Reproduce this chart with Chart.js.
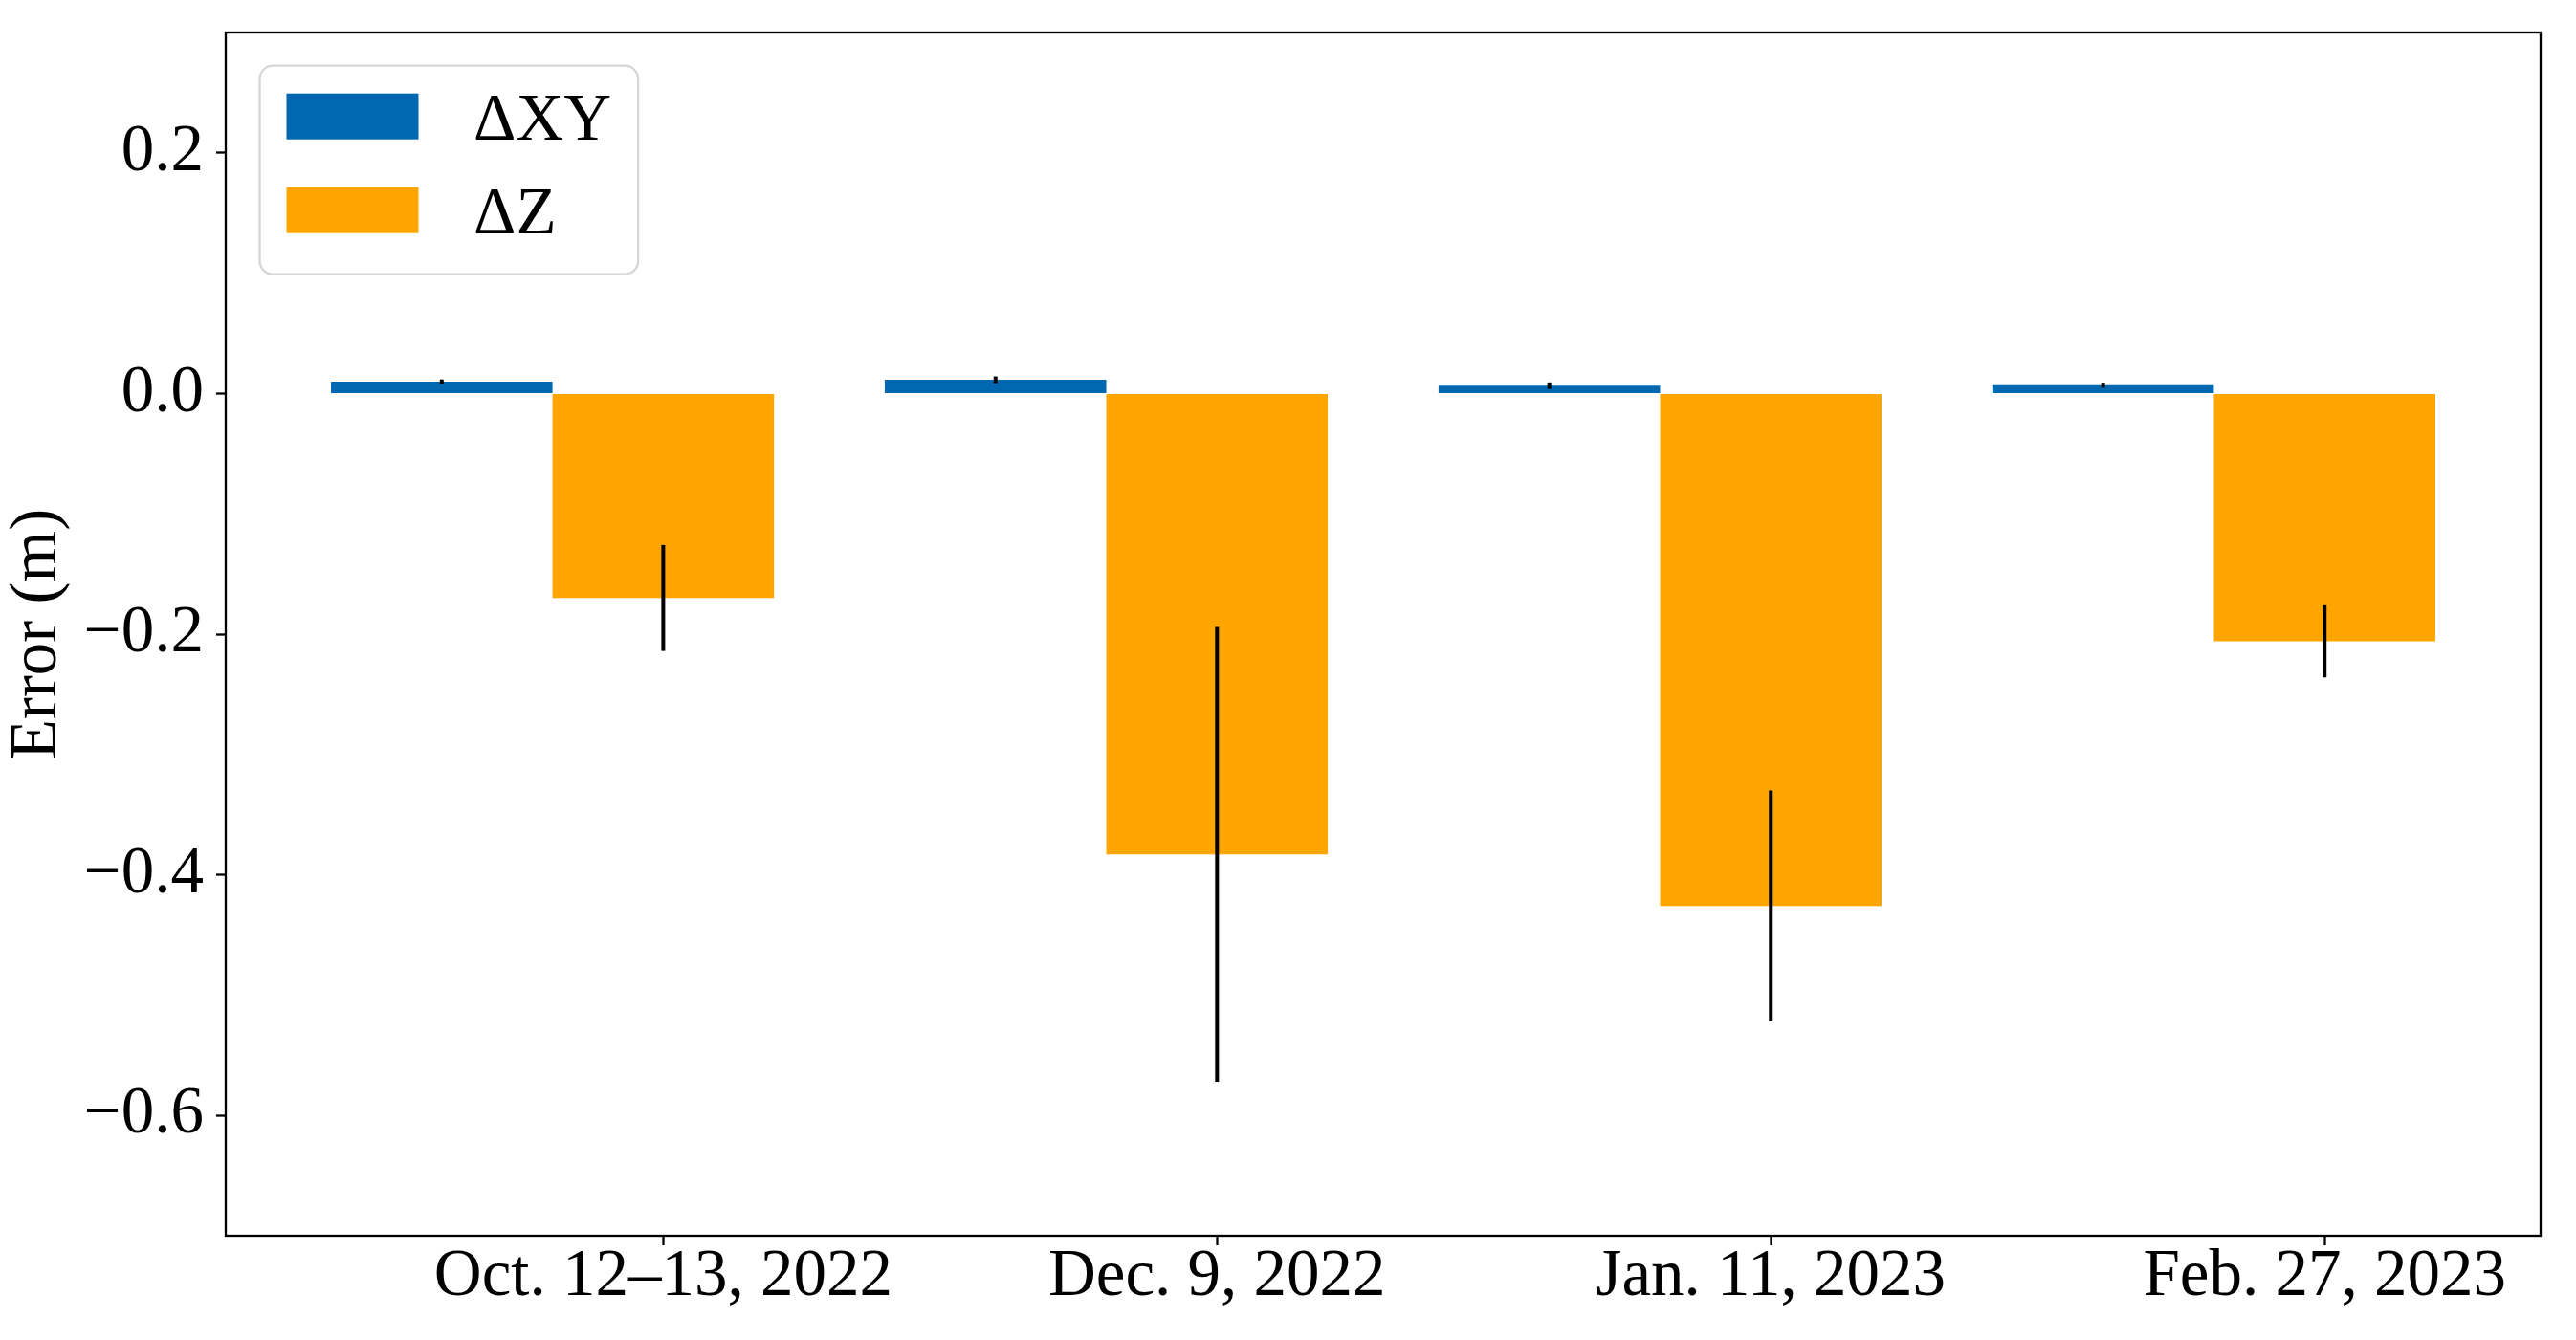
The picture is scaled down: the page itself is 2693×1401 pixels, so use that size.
<!DOCTYPE html>
<html>
<head>
<meta charset="utf-8">
<script src="https://cdn.jsdelivr.net/npm/chart.js@4.4.1/dist/chart.umd.min.js"></script>
<style>
  html, body { margin: 0; padding: 0; background: #ffffff; }
  canvas { display: block; }
</style>
</head>
<body>
<canvas id="chart" width="2693" height="1401"></canvas>
<script>
// ---------------- data ----------------
const categories = ["Oct. 12–13, 2022", "Dec. 9, 2022", "Jan. 11, 2023", "Feb. 27, 2023"];
const seriesLabels = ["ΔXY", "ΔZ"];
const xyValues = [0.0098, 0.0114, 0.0065, 0.0069];
const xyErrors = [0.0019, 0.0028, 0.0027, 0.0021];
const zValues  = [-0.170, -0.383, -0.426, -0.206];
const zErrors  = [0.044, 0.189, 0.096, 0.030];
const yTicks   = [-0.6, -0.4, -0.2, 0.0, 0.2];
const yTitle   = "Error (m)";

// ---------------- styling ----------------
const FONT = '"Liberation Serif", "Times New Roman", serif';
const FS = 69;
const COLORS = ["#0068b0", "#ffa500"];
const CAT_PCT = 0.8;                // two bars of 0.4 each per category
const TICK_OFFSET = CAT_PCT / 4;    // ticks sit under the centre of the second bar
const LW = 2.3;

const errorBars = {
  id: 'errorBars',
  afterDatasetsDraw(chart) {
    const ctx = chart.ctx;
    const yScale = chart.scales.y;
    chart.data.datasets.forEach((ds, di) => {
      const meta = chart.getDatasetMeta(di);
      if (!ds.errors || meta.hidden) return;
      ctx.save();
      ctx.strokeStyle = '#000000';
      ctx.lineWidth = 4;
      ctx.lineCap = 'butt';
      meta.data.forEach((bar, i) => {
        const v = ds.data[i].y, e = ds.errors[i];
        ctx.beginPath();
        ctx.moveTo(bar.x, yScale.getPixelForValue(v + e));
        ctx.lineTo(bar.x, yScale.getPixelForValue(v - e));
        ctx.stroke();
      });
      ctx.restore();
    });
  }
};

const frame = {
  id: 'frame',
  afterDraw(chart) {
    const {ctx, chartArea: a} = chart;
    ctx.save();
    ctx.strokeStyle = '#000000';
    ctx.lineWidth = LW;
    ctx.strokeRect(a.left, a.top, a.right - a.left, a.bottom - a.top);
    ctx.restore();
  }
};

function roundRectPath(ctx, x, y, w, h, r) {
  ctx.beginPath();
  ctx.moveTo(x + r, y);
  ctx.lineTo(x + w - r, y);
  ctx.arcTo(x + w, y, x + w, y + r, r);
  ctx.lineTo(x + w, y + h - r);
  ctx.arcTo(x + w, y + h, x + w - r, y + h, r);
  ctx.lineTo(x + r, y + h);
  ctx.arcTo(x, y + h, x, y + h - r, r);
  ctx.lineTo(x, y + r);
  ctx.arcTo(x, y, x + r, y, r);
  ctx.closePath();
}

const boxLegend = {
  id: 'boxLegend',
  afterDraw(chart) {
    const {ctx, chartArea: a} = chart;
    const items = chart.data.datasets;
    ctx.save();
    ctx.font = FS + 'px ' + FONT;
    const textW = Math.max(...items.map(d => ctx.measureText(d.label).width));
    const pad = 28, handleW = 138, handleH = 48, textPad = 57.6, rowPitch = 98, topIn = 29, botIn = 43;
    const x0 = a.left + 35.5, y0 = a.top + 34.7;
    const w = pad + handleW + textPad + textW + pad;
    const h = topIn + (items.length - 1) * rowPitch + handleH + botIn;
    roundRectPath(ctx, x0, y0, w, h, 14);
    ctx.fillStyle = 'rgba(255,255,255,0.8)';
    ctx.fill();
    ctx.strokeStyle = 'rgba(204,204,204,0.8)';
    ctx.lineWidth = LW;
    ctx.stroke();
    items.forEach((d, i) => {
      const sy = y0 + topIn + i * rowPitch;
      ctx.fillStyle = d.backgroundColor;
      ctx.fillRect(x0 + pad, sy, handleW, handleH);
      ctx.fillStyle = '#000000';
      ctx.textBaseline = 'alphabetic';
      ctx.textAlign = 'left';
      ctx.fillText(d.label, x0 + pad + handleW + textPad, sy + handleH);
    });
    ctx.restore();
  }
};

const toXY = arr => arr.map((v, i) => ({x: i, y: v}));

new Chart(document.getElementById('chart'), {
  type: 'bar',
  data: {
    datasets: [
      { label: seriesLabels[0], data: toXY(xyValues), errors: xyErrors, backgroundColor: COLORS[0] },
      { label: seriesLabels[1], data: toXY(zValues),  errors: zErrors,  backgroundColor: COLORS[1] }
    ]
  },
  options: {
    responsive: false,
    animation: false,
    devicePixelRatio: 1,
    layout: { padding: { top: 34, right: 37, left: 0, bottom: 0 } },
    datasets: { bar: { categoryPercentage: CAT_PCT, barPercentage: 1.0, borderWidth: 0 } },
    plugins: { legend: { display: false }, tooltip: { enabled: false } },
    scales: {
      x: {
        type: 'linear',
        offset: false,
        min: -0.59,
        max: 3.59,
        afterBuildTicks(scale) {
          scale.ticks = categories.map((c, i) => ({ value: i + TICK_OFFSET }));
        },
        afterFit(scale) {
          scale.height = 109;
          scale.paddingLeft = 0; scale.paddingRight = 0;
        },
        grid: { display: true, drawOnChartArea: false, drawTicks: true, tickLength: 10, tickWidth: LW, tickColor: '#000000', offset: false },
        border: { display: false },
        ticks: {
          autoSkip: false, maxRotation: 0, minRotation: 0,
          padding: -1,
          color: '#000000',
          font: { family: FONT, size: FS, lineHeight: 1.0 },
          callback: (value, index) => categories[index]
        }
      },
      y: {
        type: 'linear',
        min: -0.7,
        max: 0.3,
        afterBuildTicks(scale) {
          scale.ticks = yTicks.map(v => ({ value: v }));
        },
        afterFit(scale) {
          scale.width = 236;
          scale.paddingTop = 0; scale.paddingBottom = 0;
        },
        grid: { display: true, drawOnChartArea: false, drawTicks: true, tickLength: 10, tickWidth: LW, tickColor: '#000000' },
        border: { display: false },
        ticks: {
          padding: 13,
          color: '#000000',
          font: { family: FONT, size: FS, lineHeight: 1.2 },
          callback: v => (v < -1e-9 ? '\u2212' : '') + Math.abs(v).toFixed(1)
        },
        title: {
          display: true,
          text: yTitle,
          color: '#000000',
          padding: { top: 0, bottom: 0 },
          font: { family: FONT, size: FS, lineHeight: 1.15 }
        }
      }
    }
  },
  plugins: [errorBars, frame, boxLegend]
});
</script>
</body>
</html>
